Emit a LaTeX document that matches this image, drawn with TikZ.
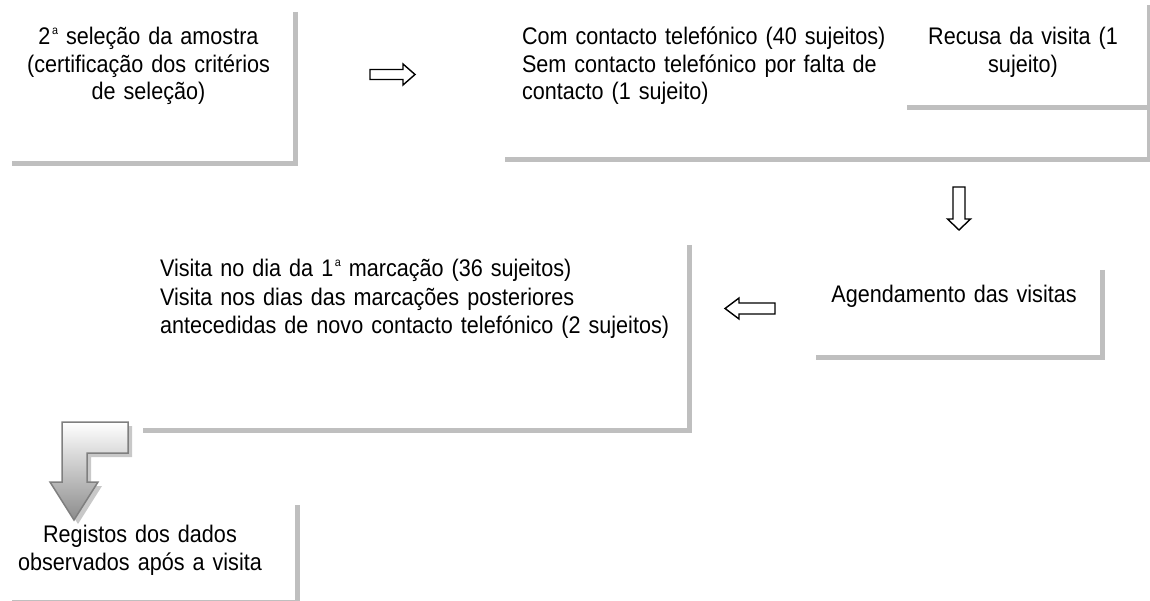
\documentclass[tikz,border=0pt]{standalone}
\usepackage{fontspec}
\setmainfont{Liberation Sans}[FakeStretch=0.9]
\definecolor{shadowgray}{HTML}{BFBFBF}
\definecolor{arrowedge}{HTML}{7F7F7F}
\definecolor{arrowshadow}{HTML}{C8C8C8}
\definecolor{arrowdark}{HTML}{8C8C8C}
% small raised ordinal letter
\newcommand{\ordmark}[1]{\kern1.5pt\raisebox{0.42em}{\fontsize{12}{12}\selectfont #1}}
\begin{document}
\begin{tikzpicture}[x=1pt, y=-1pt,
  shadowline/.style={draw=shadowgray, line width=5pt, line join=miter},
  txt/.style={inner sep=0pt, outer sep=0pt, font=\fontsize{24}{#1}\selectfont},
  txt/.default=27.5,
  blockarrow/.style={draw=black, line width=1.4pt, fill=white, line join=miter},
  bentarrow/.style={draw=arrowedge, line width=1.5pt, top color=white, bottom color=arrowdark, line join=miter},
]
\useasboundingbox (0,0) rectangle (1150,601);

% panel shadows (right and bottom edges)
\coordinate (p1) at (295.5,12);   \coordinate (q1) at (12,163.5);
\coordinate (p2) at (1149.5,5);   \coordinate (q2) at (505,160);
\coordinate (p3) at (1149.5,5);   \coordinate (q3) at (907,108);
\coordinate (p4) at (1102,270);   \coordinate (q4) at (816,357);
\coordinate (p5) at (689,245);    \coordinate (q5) at (143,430);
\coordinate (p6) at (297,505);    \coordinate (q6) at (12,602);
\foreach \i in {1,...,6}
  \draw[shadowline] (p\i) -- (p\i |- q\i) -- (q\i);

% panel texts
\node[txt, text width=290pt, align=center, anchor=base] (t1) at (148.5,45)
  {2\ordmark{a} seleção da amostra\\(certificação dos critérios\\de seleção)};
\node[txt, text width=380pt, align=left, anchor=base west] (t2) at (522,45)
  {Com contacto telefónico (40 sujeitos)\\Sem contacto telefónico por falta de\\contacto (1 sujeito)};
\node[txt, text width=210pt, align=center, anchor=base] (t3) at (1023,45)
  {Recusa da visita (1\\sujeito)};
\node[txt, text width=270pt, align=center, anchor=base] (t4) at (954,303)
  {Agendamento das visitas};
\node[txt=28.5, text width=520pt, align=left, anchor=base west] (t5) at (160,277)
  {Visita no dia da 1\ordmark{a} marcação (36 sujeitos)\\Visita nos dias das marcações posteriores\\antecedidas de novo contacto telefónico (2 sujeitos)};
\node[txt=28, text width=280pt, align=center, anchor=base] (t6) at (140,542)
  {Registos dos dados\\observados após a visita};

% block arrows
\coordinate (a1) at (370,74.5);
\draw[blockarrow, shift={(a1)}]
  (0,-5) -- (33,-5) -- (33,-10.5) -- (45,0) -- (33,10.5) -- (33,5) -- (0,5) -- cycle;
\coordinate (a2) at (959,230);
\draw[blockarrow, shift={(a2)}]
  (-6,-43) -- (6,-43) -- (6,-11) -- (11.5,-11) -- (0,0) -- (-11.5,-11) -- (-6,-11) -- cycle;
\coordinate (a3) at (725,308.5);
\draw[blockarrow, shift={(a3)}]
  (50,-5.5) -- (14,-5.5) -- (14,-10.5) -- (0,0) -- (14,10.5) -- (14,5.5) -- (50,5.5) -- cycle;

% bent arrow down to the last panel
\coordinate (a4) at (62,422);
\fill[arrowshadow, shift={(a4)}, shift={(4,4)}]
  (0,0) -- (66,0) -- (66,31) -- (25,31) -- (25,60) -- (36,60) -- (12,98) -- (-12,60) -- (0,60) -- cycle;
\draw[bentarrow, shift={(a4)}]
  (0,0) -- (66,0) -- (66,31) -- (25,31) -- (25,60) -- (36,60) -- (12,98) -- (-12,60) -- (0,60) -- cycle;
\end{tikzpicture}
\end{document}
